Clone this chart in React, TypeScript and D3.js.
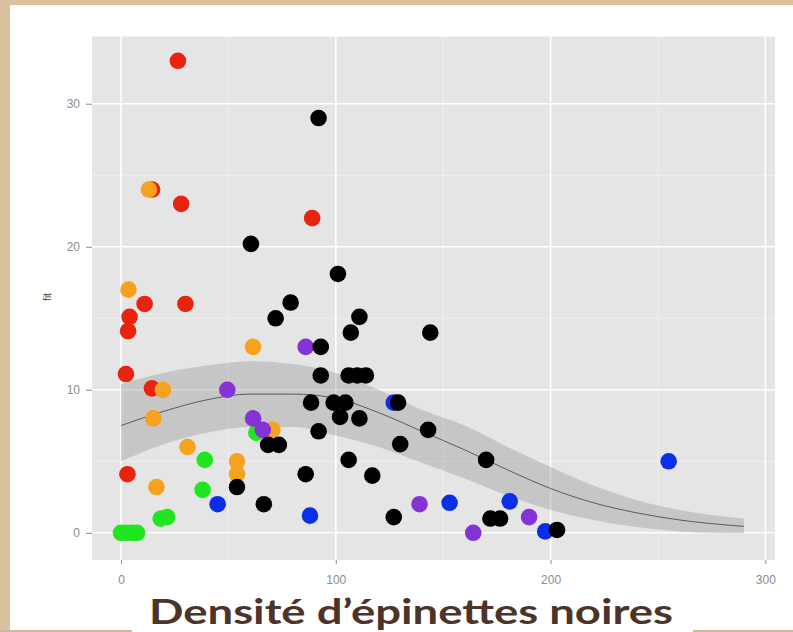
// Scatter of fit vs density, with a smoothed fit and its confidence band
import { useEffect, useRef } from 'react';
import * as d3 from 'd3';

type Pt = [number, number];

// Points by colour group: [density, fit]
const greenPts: Pt[] = [[0, 0], [2.5, 0], [5, 0], [7.5, 0], [18.5, 1], [21.5, 1.1], [38, 3], [39, 5.1], [63, 7]];
const redPts: Pt[] = [[26.5, 33], [28, 23], [89, 22], [14.5, 24], [30, 16], [11, 16], [4, 15.1], [3.3, 14.1], [2.3, 11.1], [14.4, 10.1], [3, 4.1]];
const orangePts: Pt[] = [[13, 24], [3.5, 17], [61.5, 13], [19.5, 10], [15, 8], [31, 6], [16.5, 3.2], [54, 5], [54, 4.1], [70.5, 7.2]];
const purplePts: Pt[] = [[49.5, 10], [61.5, 8], [66, 7.2], [86, 13], [139, 2], [164, 0], [190, 1.1]];
const bluePts: Pt[] = [[45, 2], [88, 1.2], [127, 9.1], [153, 2.1], [181, 2.2], [197.5, 0.1], [255, 5]];
const blackPts: Pt[] = [
  [92, 29], [60.5, 20.2], [101, 18.1], [79, 16.1], [72, 15], [111, 15.1], [107, 14], [144, 14],
  [93, 13], [93, 11], [106, 11], [110, 11], [114, 11], [88.5, 9.1], [99, 9.1], [104.5, 9.1],
  [129, 9.1], [102, 8.1], [111, 8], [92, 7.1], [143, 7.2], [68.5, 6.15], [73.5, 6.15], [130, 6.2],
  [106, 5.1], [170, 5.1], [54, 3.2], [86, 4.1], [117, 4], [66.5, 2], [127, 1.1], [172, 1],
  [176.5, 1], [203, 0.2],
];

// Smoothed fit and band
const fitX = [0, 20, 40, 60, 80, 100, 120, 140, 160, 180, 200, 220, 240, 260, 290];
const fitY = [7.5, 8.5, 9.3, 9.7, 9.7, 9.4, 8.4, 7.1, 5.8, 4.4, 3.1, 2.1, 1.4, 0.9, 0.45];
const fitUpper = [10.4, 11.2, 11.7, 12.0, 11.8, 11.2, 10.0, 8.6, 7.5, 6.0, 4.6, 3.3, 2.3, 1.6, 1.0];
const fitLower = [5.0, 6.2, 7.0, 7.4, 7.4, 6.8, 6.0, 4.9, 3.8, 2.6, 1.6, 0.9, 0.4, 0.1, -0.05];

const xTicks = [0, 100, 200, 300];
const yTicks = [0, 10, 20, 30];
const xMinor = [50, 150, 250];
const yMinor = [5, 15, 25];

const groups: { pts: Pt[]; color: string }[] = [
  { pts: greenPts, color: '#1fe61f' },
  { pts: redPts, color: '#e8230f' },
  { pts: orangePts, color: '#f6a21e' },
  { pts: purplePts, color: '#8633d6' },
  { pts: bluePts, color: '#0a2fe6' },
  { pts: blackPts, color: '#000000' },
];

const App = () => {
  const svgRef = useRef<SVGSVGElement | null>(null);

  useEffect(() => {
    const width = 793;
    const height = 632;
    const left = 92, right = 775, top = 36.5, bottom = 560;

    const svg = d3.select(svgRef.current);
    svg.selectAll('*').remove();

    // slide frame
    svg.append('rect').attr('width', width).attr('height', height).attr('fill', '#d9c09e');
    svg.append('rect').attr('x', 10).attr('y', 5).attr('width', width - 10).attr('height', 625).attr('fill', '#ffffff');
    svg.append('rect').attr('x', 0).attr('y', 630).attr('width', width).attr('height', 2).attr('fill', '#cdb999');

    const x = d3.scaleLinear().domain([-13.5, 304.5]).range([left, right]);
    const y = d3.scaleLinear().domain([-1.9, 34.7]).range([bottom, top]);

    // panel + grid
    svg.append('rect').attr('x', left).attr('y', top).attr('width', right - left).attr('height', bottom - top).attr('fill', '#e5e5e5');
    const grid = svg.append('g');
    grid.selectAll('.xm').data(xMinor).join('line')
      .attr('x1', d => x(d)).attr('x2', d => x(d)).attr('y1', top).attr('y2', bottom)
      .attr('stroke', '#f2f2f2').attr('stroke-width', 0.8);
    grid.selectAll('.ym').data(yMinor).join('line')
      .attr('x1', left).attr('x2', right).attr('y1', d => y(d)).attr('y2', d => y(d))
      .attr('stroke', '#f2f2f2').attr('stroke-width', 0.8);
    grid.selectAll('.xM').data(xTicks).join('line')
      .attr('x1', d => x(d)).attr('x2', d => x(d)).attr('y1', top).attr('y2', bottom)
      .attr('stroke', '#ffffff').attr('stroke-width', 1.6);
    grid.selectAll('.yM').data(yTicks).join('line')
      .attr('x1', left).attr('x2', right).attr('y1', d => y(d)).attr('y2', d => y(d))
      .attr('stroke', '#ffffff').attr('stroke-width', 1.6);

    // confidence band and fit line
    const idx = d3.range(fitX.length);
    const band = d3.area<number>()
      .x(i => x(fitX[i]))
      .y0(i => y(fitLower[i]))
      .y1(i => y(fitUpper[i]))
      .curve(d3.curveMonotoneX);
    svg.append('path').attr('d', band(idx)).attr('fill', '#999999').attr('fill-opacity', 0.4);
    const line = d3.line<number>().x(i => x(fitX[i])).y(i => y(fitY[i])).curve(d3.curveMonotoneX);
    svg.append('path').attr('d', line(idx)).attr('fill', 'none').attr('stroke', '#5a5a5a').attr('stroke-width', 1);

    // points
    groups.forEach(g => {
      svg.append('g').selectAll('circle').data(g.pts).join('circle')
        .attr('cx', d => x(d[0])).attr('cy', d => y(d[1])).attr('r', 8.3)
        .attr('fill', g.color);
    });

    // axes
    const axisStyle = (g: d3.Selection<SVGGElement, unknown, null, undefined>) => {
      g.select('.domain').remove();
      g.selectAll('line').attr('stroke', '#8a8a8a');
      g.selectAll('text').attr('fill', '#8c8c8c').style('font-size', '12px').style('font-family', 'Liberation Sans, Arial, sans-serif');
    };
    svg.append('g')
      .attr('transform', `translate(0,${bottom})`)
      .call(d3.axisBottom(x).tickValues(xTicks).tickSize(4).tickPadding(11))
      .call(axisStyle);
    svg.append('g')
      .attr('transform', `translate(${left},0)`)
      .call(d3.axisLeft(y).tickValues(yTicks).tickSize(6).tickPadding(6))
      .call(axisStyle);

    svg.append('text')
      .attr('transform', `translate(51,297) rotate(-90)`)
      .attr('text-anchor', 'middle')
      .attr('fill', '#333333')
      .style('font-size', '10px')
      .style('font-family', 'Liberation Sans, Arial, sans-serif')
      .text('fit');

    // slide title (kept inside the frame)
    svg.append('rect').attr('x', 132).attr('y', 596).attr('width', 561).attr('height', 36).attr('fill', '#ffffff');
    svg.append('text')
      .attr('x', 411).attr('y', 624)
      .attr('text-anchor', 'middle')
      .attr('fill', '#4d3428')
      .attr('textLength', 524)
      .attr('lengthAdjust', 'spacingAndGlyphs')
      .style('font-size', '35px')
      .style('font-weight', 'bold')
      .style('font-family', 'Lato, Open Sans, sans-serif')
      .text('Densité d’épinettes noires');
  }, []);

  return (
    <svg ref={svgRef} width={793} height={632} style={{ position: 'absolute', left: 0, top: 0, display: 'block' }} />
  );
};

export default App;
